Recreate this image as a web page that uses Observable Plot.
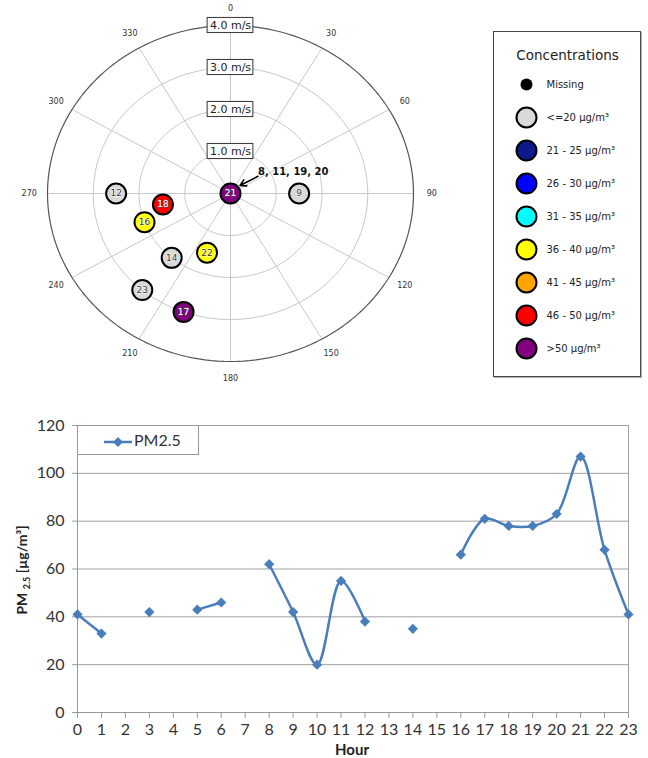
<!DOCTYPE html>
<html><head><meta charset="utf-8">
<script src="https://cdn.jsdelivr.net/npm/d3@7"></script>
<script src="https://cdn.jsdelivr.net/npm/@observablehq/plot@0.6"></script>
<style>
body{margin:0;background:#fff;width:648px;height:758px;position:relative;overflow:hidden;font-family:"DejaVu Sans",sans-serif}
#polar{position:absolute;left:0;top:0}
#legend{position:absolute;left:493px;top:31px;border:1px solid #444;width:146px;height:344px;box-shadow:1px 1px 1px #bbb}
#line{position:absolute;left:0;top:395px}
#lineLegend{position:absolute;left:77px;top:425px;width:120px;height:28px;border:1px solid #999;background:#fff;font-family:Lato,sans-serif;font-size:16px;color:#333}
#lineLegend svg{position:absolute;left:24px;top:6px}
#lineLegend span{position:absolute;left:56px;top:4px}
</style></head><body>
<div id="polar"></div><div id="legend"></div><div id="line"></div>
<div id="lineLegend"><svg width="32" height="18"></svg><span>PM2.5</span></div>
<script>
// ---- Line chart data ----
const hours = [0,1,2,3,4,5,6,7,8,9,10,11,12,13,14,15,16,17,18,19,20,21,22,23];
const pm25 = [41,33,null,42,null,43,46,null,62,42,20,55,38,null,35,null,66,81,78,78,83,107,68,41];
const yTicks = [0,20,40,60,80,100,120];

// ---- Wind polar data ----
const windHours = [9,12,18,16,14,22,23,17,21];
const windSpeed = [1.5,2.5,1.5,2.0,2.0,1.5,3.0,3.0,0];
const windDir = [90,270,260,250,220,200,220,200,0];
const windColor = ["#d9d9d9","#d9d9d9","#ff0000","#ffff00","#d9d9d9","#ffff00","#d9d9d9","#800080","#800080"];
const calmHours = "8, 11, 19, 20";
const speedTicks = [1,2,3,4];
const dirTicks = [0,30,60,90,120,150,180,210,240,270,300,330];

// ---- Legend ----
const legendTitle = "Concentrations";
const legendLabels = ["Missing","<=20 µg/m³","21 - 25 µg/m³","26 - 30 µg/m³","31 - 35 µg/m³","36 - 40 µg/m³","41 - 45 µg/m³","46 - 50 µg/m³",">50 µg/m³"];
const legendColors = ["#000000","#d9d9d9","#0d1a8c","#0000ff","#00ffff","#ffff00","#ffa500","#ff0000","#800080"];

const rad = d => d * Math.PI / 180;
const px = (s, a) => s * Math.sin(rad(a));
const py = (s, a) => s * Math.cos(rad(a));
const darkFill = c => c === "#800080" || c === "#ff0000";

const pts = windHours.map((h, i) => ({h, s: windSpeed[i], d: windDir[i], c: windColor[i]}));
const ringPts = speedTicks.flatMap(s => d3.range(0, 361, 2).map(a => ({s, a})));

const polar = Plot.plot({
  width: 480, height: 392,
  marginLeft: 47, marginRight: 67, marginTop: 25, marginBottom: 31,
  x: {domain: [-4, 4], axis: null},
  y: {domain: [-4, 4], axis: null},
  color: {type: "identity"},
  style: {fontFamily: "DejaVu Sans, sans-serif", background: "white"},
  marks: [
    Plot.link(dirTicks, {x1: () => 0, y1: () => 0, x2: d => px(4, d), y2: d => py(4, d), stroke: "#c8c8c8", strokeWidth: 1}),
    Plot.line(ringPts.filter(p => p.s < 4), {x: p => px(p.s, p.a), y: p => py(p.s, p.a), z: "s", stroke: "#c8c8c8", strokeWidth: 1}),
    Plot.line(ringPts.filter(p => p.s === 4), {x: p => px(p.s, p.a), y: p => py(p.s, p.a), stroke: "#555", strokeWidth: 1.2}),
    Plot.text(dirTicks, {x: d => px(4.4, d), y: d => py(4.4, d), text: d => String(d), fontSize: 8, fill: "#333"}),
    Plot.rect(speedTicks, {x1: () => -0.5, x2: () => 0.5, y1: s => s - 0.18, y2: s => s + 0.18, fill: "white", stroke: "#333", strokeWidth: 1}),
    Plot.text(speedTicks, {x: () => 0, y: s => s, text: s => s.toFixed(1) + " m/s", fontSize: 11, fill: "#222"}),
    Plot.arrow([calmHours], {x1: () => 0.6, y1: () => 0.41, x2: () => 0.21, y2: () => 0.19, stroke: "black", strokeWidth: 1.6, headLength: 7}),
    Plot.text([calmHours], {x: () => 0.6, y: () => 0.52, text: d => d, textAnchor: "start", fontWeight: "bold", fontSize: 10, fill: "#111"}),
    Plot.dot(pts, {x: p => px(p.s, p.d), y: p => py(p.s, p.d), r: 10, fill: "c", stroke: "black", strokeWidth: 2}),
    Plot.text(pts, {x: p => px(p.s, p.d), y: p => py(p.s, p.d), text: p => String(p.h), fontSize: 9,
      fill: p => darkFill(p.c) ? "#ffffff" : "#333333", stroke: p => darkFill(p.c) ? "#555555" : "#ffffff",
      strokeWidth: 1, paintOrder: "stroke"})
  ]
});
document.getElementById("polar").appendChild(polar);

const legend = Plot.plot({
  width: 146, height: 344,
  margin: 0,
  y: {type: "point", domain: legendLabels, range: [51, 317], padding: 0, axis: null},
  color: {type: "identity"},
  style: {fontFamily: "DejaVu Sans, sans-serif", background: "white"},
  marks: [
    Plot.text([legendTitle], {frameAnchor: "top", dy: 18, text: d => d, fontSize: 13.5, fill: "#222"}),
    Plot.dot(legendLabels.slice(0, 1), {y: d => d, frameAnchor: "left", dx: 32, r: 6, fill: "#000"}),
    Plot.dot(legendLabels.slice(1), {y: d => d, frameAnchor: "left", dx: 32, r: 10, fill: (d, i) => legendColors[i + 1], stroke: "black", strokeWidth: 2}),
    Plot.text(legendLabels, {y: d => d, frameAnchor: "left", dx: 52, textAnchor: "start", fontSize: 10, fill: "#222"})
  ]
});
document.getElementById("legend").appendChild(legend);

// ---- Line chart ----
const lineData = hours.map((h, i) => ({h, v: pm25[i]}));
const blue = "#4a7ebb";
const line = Plot.plot({
  width: 648, height: 363,
  marginLeft: 77, marginRight: 20, marginTop: 30, marginBottom: 46,
  x: {domain: [0, 23]},
  y: {domain: [0, 120]},
  style: {fontFamily: "Lato, sans-serif", fontSize: "16px", color: "#333", background: "white"},
  marks: [
    Plot.ruleY(yTicks.slice(1), {stroke: "#a0a0a0", strokeWidth: 1}),
    Plot.ruleX([hours[hours.length - 1]], {stroke: "#a0a0a0", strokeWidth: 1}),
    Plot.ruleX([0], {stroke: "#999", strokeWidth: 1}),
    Plot.ruleY([0], {stroke: "#999", strokeWidth: 1}),
    Plot.axisX({ticks: hours, tickSize: 6, tickPadding: 5, stroke: "#999", fill: "#333", label: null, tickFormat: d => String(d)}),
    Plot.axisY({ticks: yTicks, tickSize: 5, tickPadding: 8, stroke: "#999", fill: "#333", label: null}),
    Plot.line(lineData, {x: "h", y: "v", curve: "catmull-rom", stroke: blue, strokeWidth: 2.5}),
    Plot.dot(lineData.filter(d => d.v != null), {x: "h", y: "v", symbol: "diamond2", r: 4.6, fill: blue, stroke: "none"})
  ]
});
document.getElementById("line").appendChild(line);

const svg = d3.select(line);
const yl = svg.append("text").attr("transform", "translate(27,175) rotate(-90)")
  .attr("text-anchor", "middle").attr("font-weight", "bold").attr("font-size", 14)
  .attr("fill", "#222").attr("font-family", "Lato, sans-serif");
yl.append("tspan").text("PM ");
yl.append("tspan").attr("font-size", 9).attr("dy", 3).text("2.5");
yl.append("tspan").attr("dy", -3).text(" [µg/m³]");
svg.append("text").attr("x", 352).attr("y", 360).attr("text-anchor", "middle")
  .attr("font-weight", "bold").attr("font-size", 15).attr("fill", "#222")
  .attr("font-family", "Lato, sans-serif").text("Hour");

// legend sample for line chart
const ls = d3.select("#lineLegend svg");
ls.append("line").attr("x1", 2).attr("x2", 30).attr("y1", 10).attr("y2", 10).attr("stroke", blue).attr("stroke-width", 2.5);
ls.append("path").attr("d", d3.symbol(d3.symbolDiamond2, 64)()).attr("transform", "translate(16,10)").attr("fill", blue);
</script>
</body></html>
